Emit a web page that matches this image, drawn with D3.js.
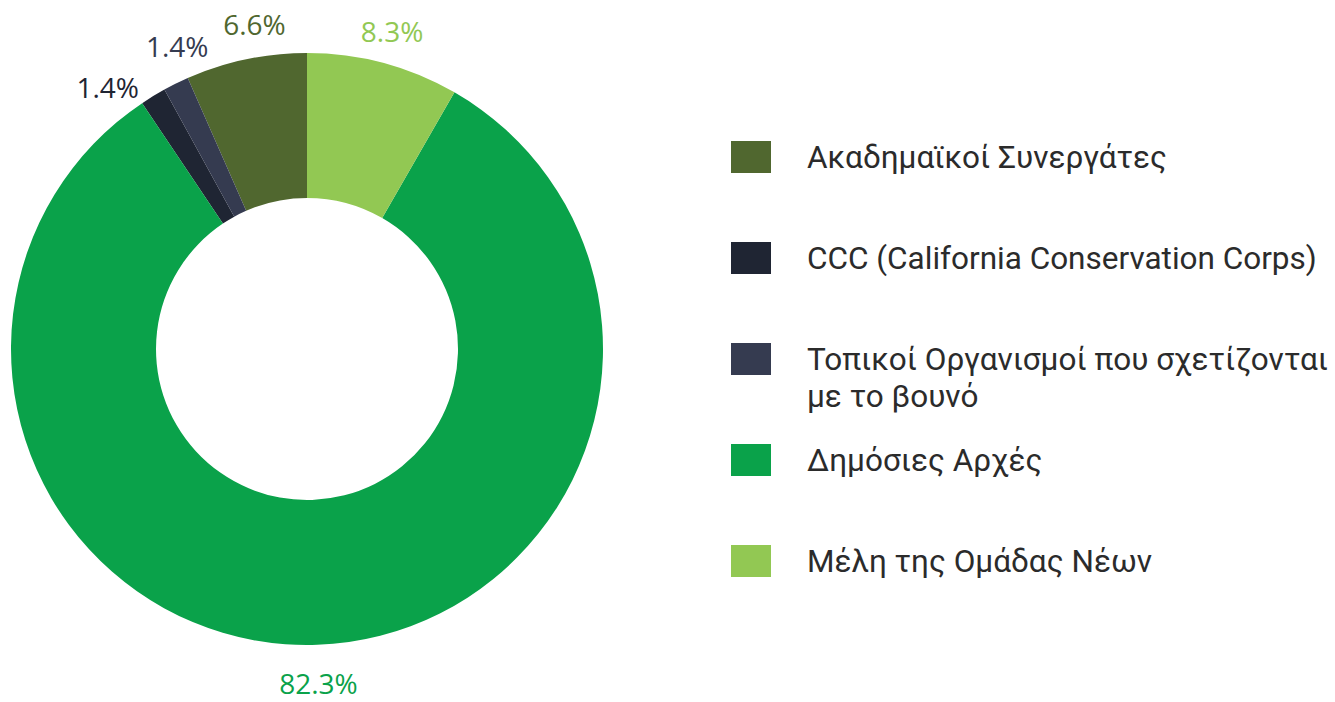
<!DOCTYPE html>
<html>
<head>
<meta charset="utf-8">
<script src="https://cdn.jsdelivr.net/npm/d3@7"></script>
<style>
  body { margin: 0; background: #fff; }
  svg { display: block; }
</style>
</head>
<body>
<svg id="chart" width="1335" height="702"></svg>
<script>
// data, in legend order
const categories = [
  "Ακαδημαϊκοί Συνεργάτες",
  "CCC (California Conservation Corps)",
  "Τοπικοί Οργανισμοί που σχετίζονται με το βουνό",
  "Δημόσιες Αρχές",
  "Μέλη της Ομάδας Νέων"
];
const values = [6.6, 1.4, 1.4, 82.3, 8.3];
const colors = ["#50672f", "#1f2533", "#353b50", "#0aa24a", "#92c853"];
// legend lines (the third entry wraps)
const legendLines = [
  ["Ακαδημαϊκοί Συνεργάτες"],
  ["CCC (California Conservation Corps)"],
  ["Τοπικοί Οργανισμοί που σχετίζονται", "με το βουνό"],
  ["Δημόσιες Αρχές"],
  ["Μέλη της Ομάδας Νέων"]
];
// clockwise drawing order from 12 o'clock
const sliceOrder = [4, 3, 1, 2, 0];

const svg = d3.select("#chart");
const cx = 307, cy = 349;
const outerR = 296, innerR = 151;

const data = categories.map((c, i) => ({name: c, value: values[i], color: colors[i], idx: i}));

const pie = d3.pie()
  .value(d => d.value)
  .sort((a, b) => sliceOrder.indexOf(a.idx) - sliceOrder.indexOf(b.idx));

const arc = d3.arc().innerRadius(innerR).outerRadius(outerR);

const g = svg.append("g").attr("transform", "translate(" + cx + "," + cy + ")");
const arcs = pie(data);

g.selectAll("path.slice")
  .data(arcs)
  .enter().append("path")
  .attr("class", "slice")
  .attr("d", arc)
  .attr("fill", d => d.data.color);

// label angles, spread apart so they don't overlap
const labels = arcs.map(d => {
  let a = (d.startAngle + d.endAngle) / 2;
  if (a > Math.PI) a -= 2 * Math.PI;
  return {a: a, d: d};
});
const minGap = 14 * Math.PI / 180;
for (let it = 0; it < 50; it++) {
  labels.sort((p, q) => p.a - q.a);
  for (let i = 1; i < labels.length; i++) {
    const gap = labels[i].a - labels[i - 1].a;
    if (gap < minGap) {
      const push = (minGap - gap) / 2;
      labels[i].a += push;
      labels[i - 1].a -= push;
    }
  }
}
const labelR = 330;

g.selectAll("text.pct")
  .data(labels)
  .enter().append("text")
  .attr("class", "pct")
  .attr("x", l => labelR * Math.sin(l.a))
  .attr("y", l => -labelR * Math.cos(l.a) + (Math.abs(l.a) > Math.PI / 2 ? 5 : 2))
  .attr("dy", "0.35em")
  .attr("text-anchor", "middle")
  .attr("font-family", "'Open Sans', sans-serif")
  .attr("font-size", 28)
  .attr("fill", l => l.d.data.color)
  .text(l => l.d.data.value.toFixed(1) + "%");

// legend
const legend = svg.append("g").attr("transform", "translate(731,0)");
const rowY = d3.scalePoint().domain(d3.range(categories.length)).range([157, 561]);

const item = legend.selectAll("g.item")
  .data(data)
  .enter().append("g")
  .attr("class", "item")
  .attr("transform", d => "translate(0," + rowY(d.idx) + ")");

item.append("rect")
  .attr("x", 0)
  .attr("y", -16)
  .attr("width", 40)
  .attr("height", 32)
  .attr("fill", d => d.color);

item.append("text")
  .attr("x", 76)
  .attr("font-family", "Roboto, sans-serif")
  .attr("font-size", 31.5)
  .attr("fill", "#2b2b2b")
  .selectAll("tspan")
  .data(d => legendLines[d.idx])
  .enter().append("tspan")
  .attr("x", 76)
  .attr("y", (t, i) => i * 37)
  .attr("dy", "0.35em")
  .text(t => t);
</script>
</body>
</html>
